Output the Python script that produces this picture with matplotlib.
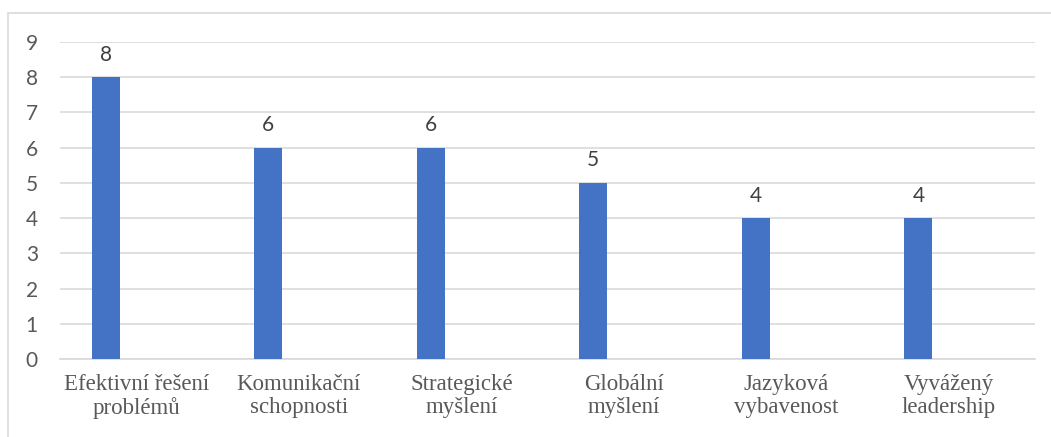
import matplotlib.pyplot as plt
from matplotlib.patches import Rectangle

# Data
categories = [
    "Efektivní řešení\nproblémů",
    "Komunikační\nschopnosti",
    "Strategické\nmyšlení",
    "Globální\nmyšlení",
    "Jazyková\nvybavenost",
    "Vyvážený\nleadership",
]
values = [8, 6, 6, 5, 4, 4]
y_ticks = list(range(0, 10))

BAR_COLOR = "#4472C4"
GRID_COLOR = "#D9D9D9"
TEXT_COLOR = "#595959"

fig = plt.figure(figsize=(10.51, 4.37), dpi=100)
ax = fig.add_axes([0.0571, 0.1785, 0.9277, 0.7254])

x = list(range(len(categories)))
bar_x = [i - 0.218 for i in x]
bars = ax.bar(bar_x, values, width=0.172, color=BAR_COLOR, zorder=3)

for b, v in zip(bars, values):
    ax.annotate(str(v), (b.get_x() + b.get_width() / 2, v),
                xytext=(0, 9), textcoords="offset points",
                ha="center", va="bottom", fontsize=15,
                family="Lato", color="#404040")

ax.set_xlim(-0.5, len(categories) - 0.5)
ax.set_ylim(0, 9)
ax.set_yticks(y_ticks)
ax.set_yticklabels([str(t) for t in y_ticks], family="Lato",
                   fontsize=15, color=TEXT_COLOR)
ax.set_xticks([i - 0.03 for i in x])
ax.set_xticklabels(categories, family="Liberation Serif", fontsize=16.5,
                   color=TEXT_COLOR, linespacing=1.1)
ax.tick_params(axis="both", length=0)
ax.tick_params(axis="y", pad=16)
ax.tick_params(axis="x", pad=11)

ax.grid(axis="y", color=GRID_COLOR, linewidth=1.2, zorder=0)
for side in ["top", "right", "left"]:
    ax.spines[side].set_visible(False)
ax.spines["bottom"].set_color(GRID_COLOR)
ax.spines["bottom"].set_linewidth(1.2)

# outer chart border (cropped at right and bottom)
border = Rectangle((0.0076, -0.1), 1.1, 1.07, transform=fig.transFigure,
                   fill=False, edgecolor=GRID_COLOR, linewidth=1.2,
                   clip_on=False)
fig.patches.append(border)

fig.savefig("out.png", dpi=100)
